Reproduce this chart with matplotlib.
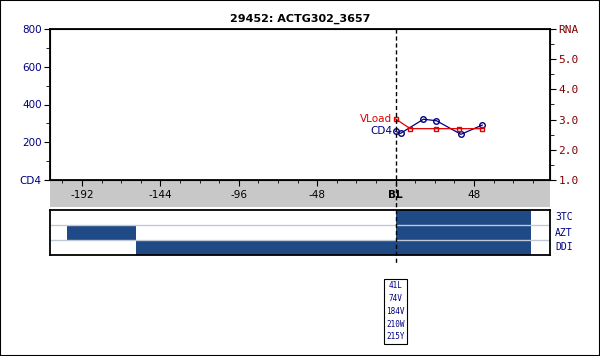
import matplotlib.pyplot as plt
import matplotlib.transforms as mtransforms
from matplotlib.patches import Rectangle

# data
cd4_weeks = [0, 3, 17, 25, 40, 53]
cd4_vals = [258, 247, 322, 314, 242, 291]
vl_weeks = [0, 9, 25, 39, 53]
vl_vals = [3.02, 2.70, 2.70, 2.70, 2.70]

x_ticks = [-192, -144, -96, -48, 0, 48]
x_labels = ['-192', '-144', '-96', '-48', 'BL', '48']
cd4_ticks = [0, 200, 400, 600, 800]
cd4_labels = ['CD4', '200', '400', '600', '800']
rna_ticks = [1, 2, 3, 4, 5, 6]
rna_labels = ['1.0', '2.0', '3.0', '4.0', '5.0', 'RNA']

drugs = ['3TC', 'AZT', 'DDI']
drug_periods = {
    '3TC': [(0, 83)],
    'AZT': [(-201, -159), (0, 83)],
    'DDI': [(-159, 83)],
}
mutations = ['41L', '74V', '184V', '210W', '215Y']

navy = '#000080'
darkred = '#800000'
bar_col = '#1f4a85'
W, H = 600, 356
xmin, xmax = -211.6, 94.5

fig = plt.figure(figsize=(6, 3.56), dpi=100)

def fbox(l, t, r, b):
    return [l / W, 1 - b / H, (r - l) / W, (b - t) / H]

# gray band under the main axes
fig.patches.append(Rectangle((50 / W, 1 - 207 / H), 500 / W, 27 / H,
                             transform=fig.transFigure, facecolor='#c8c8c8',
                             edgecolor='none', zorder=-5))
fig.patches.append(Rectangle((0, 0), 1, 1, transform=fig.transFigure,
                             fill=False, edgecolor='black', lw=1.5, zorder=10))

ax = fig.add_axes(fbox(50, 29, 550, 180))
ax.set_xlim(xmin, xmax)
ax.set_ylim(0, 800)
ax.plot(cd4_weeks, cd4_vals, color=navy, lw=0.9, marker='o', ms=4,
        mfc='none', mec=navy, mew=1, zorder=3)
ax.set_xticks(x_ticks)
ax.set_xticklabels(x_labels)
ax.set_xticks(range(-204, 95, 12), minor=True)
ax.set_yticks(cd4_ticks)
ax.set_yticklabels(cd4_labels)
ax.set_yticks(range(100, 800, 200), minor=True)
ax.tick_params(axis='x', labelsize=7.5, length=4, pad=3, direction='out')
ax.tick_params(axis='x', which='minor', length=2.5)
ax.tick_params(axis='y', labelsize=7.5, length=4, pad=2, labelcolor=navy)
ax.tick_params(axis='y', which='minor', length=3)
for lbl in ax.get_xticklabels():
    if lbl.get_text() == 'BL':
        lbl.set_fontweight('bold')
for s in ax.spines.values():
    s.set_linewidth(1.3)
ax.text(-2, 258, 'CD4', color=navy, fontsize=7.5, ha='right', va='center')
ax.set_title('29452: ACTG302_3657', fontsize=8, fontweight='bold', pad=5)

ax2 = ax.twinx()
ax2.set_ylim(1, 6)
ax2.plot(vl_weeks, vl_vals, color='#e00000', lw=0.9, marker='s', ms=3.5,
         mfc='none', mec='#e00000', mew=1, zorder=3)
ax2.set_yticks(rna_ticks)
ax2.set_yticklabels(rna_labels, family='DejaVu Sans Mono')
ax2.set_yticks([1.5, 2.5, 3.5, 4.5, 5.5], minor=True)
ax2.tick_params(axis='y', labelsize=8, length=4, pad=2, labelcolor=darkred)
ax2.tick_params(axis='y', which='minor', length=3)
ax2.text(-2, 3.02, 'VLoad', color='#e00000', fontsize=7.5, ha='right', va='center')

# treatment panel
axt = fig.add_axes(fbox(50, 210, 550, 255))
axt.set_xlim(xmin, xmax)
axt.set_ylim(0, 3)
for i, d in enumerate(drugs):
    y0 = 2 - i
    for a, b in drug_periods[d]:
        axt.broken_barh([(a, b - a)], (y0, 1), facecolors=bar_col)
    axt.text(1.01, (y0 + 0.5) / 3, d, transform=axt.transAxes, color=navy,
             fontsize=7, family='DejaVu Sans Mono', va='center')
for y in (1, 2):
    axt.axhline(y, color='#c0c8d8', lw=1)
axt.set_xticks([])
axt.set_yticks([])
for s in axt.spines.values():
    s.set_linewidth(1.3)

# baseline marker running through both panels
tr = mtransforms.blended_transform_factory(ax.transData, fig.transFigure)
fig.add_artist(plt.Line2D([0, 0], [1 - 29 / H, 1 - 265 / H], transform=tr,
                          color='black', lw=1, ls=(0, (3, 2)), zorder=5))
fig.text(0, 1 - 281 / H, '\n'.join(mutations), transform=tr, ha='center',
         va='top', fontsize=5.5, family='DejaVu Sans Mono', color=navy,
         linespacing=1.55,
         bbox=dict(boxstyle='square,pad=0.3', fc='white', ec='black', lw=0.8))

fig.savefig('out.png', dpi=100)
